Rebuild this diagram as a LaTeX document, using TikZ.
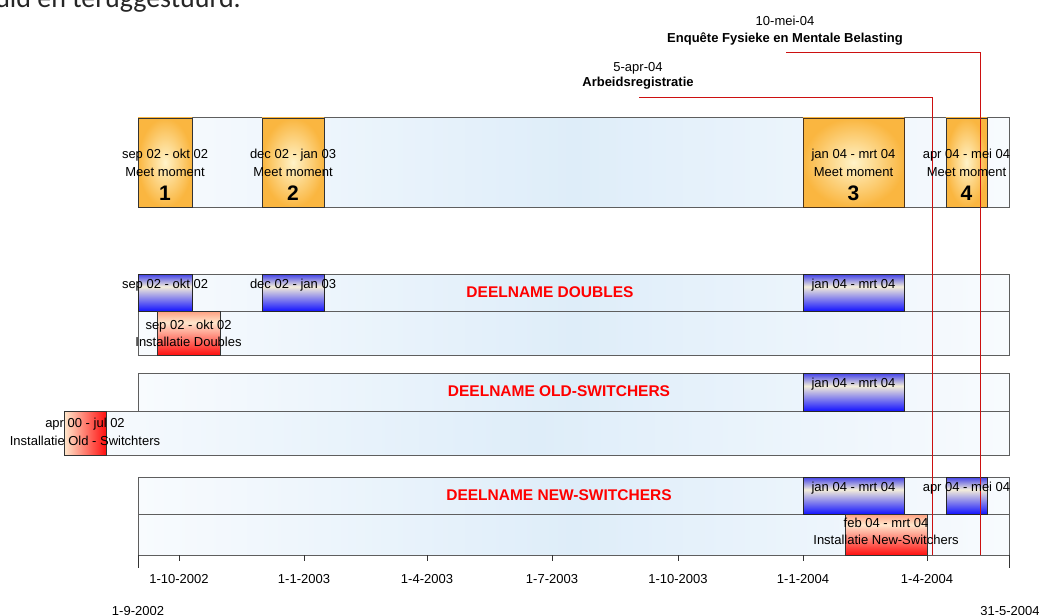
\documentclass[tikz,border=0pt]{standalone}
\usepackage{fontspec}
\setmainfont{Liberation Sans}
\newfontfamily\calib{Carlito}
\definecolor{bandL}{HTML}{F8FBFE}
\definecolor{bandM}{HTML}{DEEDF9}
\definecolor{bandR}{HTML}{F8FBFE}
\definecolor{bandline}{HTML}{5E5E5E}
\definecolor{oIn}{HTML}{FFF3C8}
\definecolor{oOut}{HTML}{FAB640}
\definecolor{bB}{HTML}{1414FF}
\definecolor{bC}{HTML}{F4EEDA}
\definecolor{bT}{HTML}{4040E8}
\definecolor{rB}{HTML}{FF1010}
\definecolor{rC}{HTML}{FFE6CC}
\definecolor{rT}{HTML}{FFA080}
\definecolor{rL}{HTML}{FFE8CC}
\definecolor{rR}{HTML}{FF1010}
\definecolor{lineRed}{HTML}{CC1010}
\definecolor{titleRed}{HTML}{FF0000}
\pgfdeclareverticalshading{bluebar}{100bp}{color(0bp)=(bB); color(25bp)=(bB); color(58bp)=(bC); color(75bp)=(bT); color(100bp)=(bT)}
\pgfdeclareverticalshading{redbar}{100bp}{color(0bp)=(rB); color(25bp)=(rB); color(62bp)=(rC); color(75bp)=(rT); color(100bp)=(rT)}
\pgfdeclarehorizontalshading{redhbar}{100bp}{color(0bp)=(rL); color(25bp)=(rL); color(75bp)=(rR); color(100bp)=(rR)}
\newcommand\gbox[6]{\node[#2, anchor=north west, inner sep=0pt, outer sep=0pt, minimum width={(#5)-(#3)}, minimum height={(#6)-(#4)}] (#1) at (#3,#4) {};}
\begin{document}
\begin{tikzpicture}[x=1pt,y=-1pt,
  band/.style={draw=bandline, line width=1pt, left color=bandL, right color=bandR, middle color=bandM},
  obox/.style={draw=black!80, line width=0.9pt, inner color=oIn, outer color=oOut},
  bbox/.style={draw=black!85, line width=0.9pt, shade, shading=bluebar},
  rbox/.style={draw=black!80, line width=0.9pt, shade, shading=redbar},
  rhbox/.style={draw=black!80, line width=0.9pt, shade, shading=redhbar},
  lbl/.style={font=\fontsize{13}{15}\selectfont, inner sep=0pt, anchor=base},
  blbl/.style={font=\bfseries\fontsize{13}{15}\selectfont, inner sep=0pt, anchor=base},
  num/.style={font=\bfseries\fontsize{21}{24}\selectfont, inner sep=0pt, anchor=base},
  dn/.style={font=\bfseries\fontsize{15.5}{18}\selectfont, text=titleRed, inner sep=0pt, anchor=base},
  redline/.style={draw=lineRed, line width=0.9pt},
  tick/.style={draw=black!80, line width=0.8pt}]
\useasboundingbox (0,0) rectangle (1039,615);
\clip (0,0) rectangle (1039,615);

% cut-off text at the top
\node[anchor=base east, inner sep=0pt, font=\calib\fontsize{28}{30}\selectfont, text=black!85] (cut) at (241,8) {uld en teruggestuurd.};

% bands
\gbox{top}{band}{138}{118}{1009}{207}
\gbox{dA}{band}{138}{274}{1009}{311}
\gbox{dB}{band}{138}{311}{1009}{355}
\gbox{oA}{band}{138}{373}{1009}{411}
\gbox{oB}{band}{64}{411}{1009}{455}
\gbox{nA}{band}{138}{477}{1009}{514}
\gbox{nB}{band}{138}{514}{1009}{555}

% meet moments
\gbox{m1}{obox}{138}{118}{192}{207}
\gbox{m2}{obox}{262}{118}{324}{207}
\gbox{m3}{obox, draw=black!60!brown}{803}{118}{904}{207}
\gbox{m4}{obox}{946}{118}{987}{207}

% blue boxes
\gbox{d1}{bbox}{138}{274}{192}{311}
\gbox{d2}{bbox}{262}{274}{324}{311}
\gbox{d3}{bbox}{803}{274}{904}{311}
\gbox{o3}{bbox}{803}{373}{904}{411}
\gbox{n3}{bbox}{803}{477}{904}{514}
\gbox{n4}{bbox}{946}{477}{987}{514}

% red boxes
\gbox{iD}{rbox}{157}{311}{220}{355}
\gbox{iO}{rhbox}{64}{411}{106}{455}
\gbox{iN}{rbox}{845}{514}{927}{555}

% axis ticks
\coordinate (t0) at (138,555);
\coordinate (tE) at (1009,555);
\draw[tick] (t0) -- ++(0,13);
\draw[tick] (tE) -- ++(0,13);
\foreach \x/\t in {179/1-10-2002, 304/1-1-2003, 427/1-4-2003, 552/1-7-2003, 678/1-10-2003, 803/1-1-2004, 927/1-4-2004}{
  \draw[tick] (\x,555) -- (\x,561);
  \node[lbl] at (\x,583) {\t};
}
\node[lbl] (s0) at (138,615) {1-9-2002};
\node[lbl] (sE) at (1010,615) {31-5-2004};

% red marker lines
\node[lbl] (arbD) at (638,72) {5-apr-04};
\node[blbl] (arb) at (638,87) {Arbeidsregistratie};
\node[lbl] (enqD) at (785,26) {10-mei-04};
\node[blbl] (enq) at (785,43) {Enquête Fysieke en Mentale Belasting};
\coordinate (arbS) at (639,97);
\coordinate (arbE) at (932,555);
\coordinate (enqS) at (786,52);
\coordinate (enqE) at (980,555);
\draw[redline] (arbS) -| (arbE);
\draw[redline] (enqS) -| (enqE);

% labels row 1
\foreach \x/\d/\n in {165/sep 02 - okt 02/1, 293/dec 02 - jan 03/2, 853.5/jan 04 - mrt 04/3, 966.5/apr 04 - mei 04/4}{
  \node[lbl] at (\x,159) {\d};
  \node[lbl] at (\x,176) {Meet moment};
  \node[num] at (\x,200.7) {\n};
}

% labels blue boxes
\node[lbl] at (165,288) {sep 02 - okt 02};
\node[lbl] at (293,288) {dec 02 - jan 03};
\node[lbl] at (853.5,288) {jan 04 - mrt 04};
\node[lbl] at (853.5,387) {jan 04 - mrt 04};
\node[lbl] at (853.5,491) {jan 04 - mrt 04};
\node[lbl] at (966.5,491) {apr 04 - mei 04};

% labels red boxes
\node[lbl] at (188.5,329) {sep 02 - okt 02};
\node[lbl] at (188.5,346) {Installatie Doubles};
\node[lbl] at (85,427) {apr 00 - jul 02};
\node[lbl] at (85,445) {Installatie Old - Switchters};
\node[lbl] at (886,527) {feb 04 - mrt 04};
\node[lbl] at (886,544) {Installatie New-Switchers};

% row titles
\node[dn] (tD) at (550,297) {DEELNAME DOUBLES};
\node[dn] (tO) at (559,396) {DEELNAME OLD-SWITCHERS};
\node[dn] (tN) at (559,500) {DEELNAME NEW-SWITCHERS};
\end{tikzpicture}
\end{document}
